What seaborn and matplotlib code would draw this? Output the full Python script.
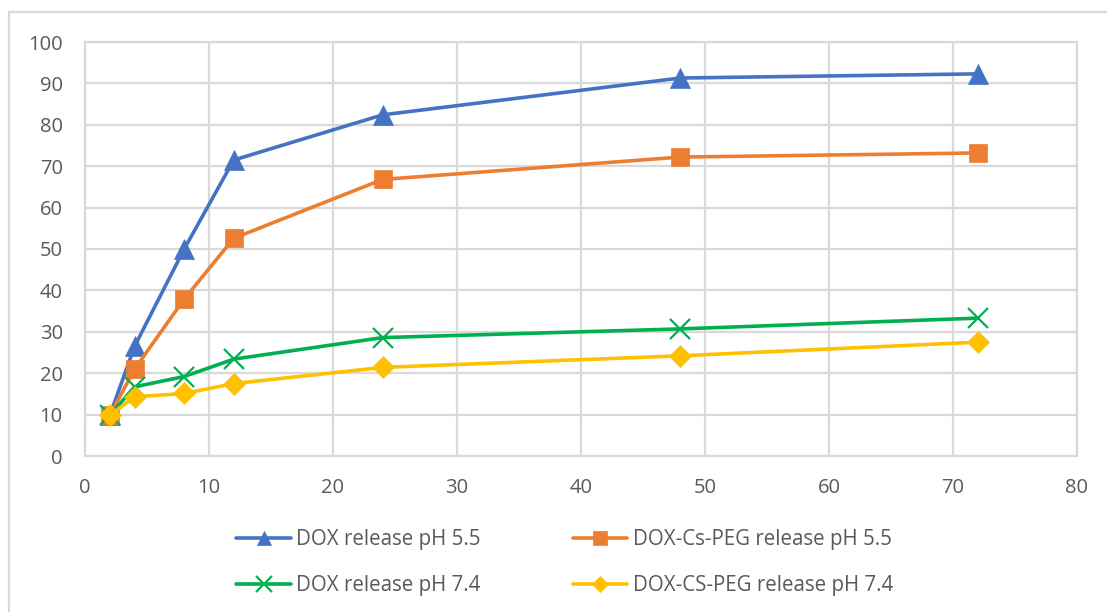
import matplotlib
matplotlib.use("Agg")
import matplotlib.pyplot as plt
from matplotlib.patches import Rectangle
import numpy as np
import pandas as pd
import seaborn as sns

# Release time points (hours)
hours = [2, 4, 8, 12, 24, 48, 72]

# Cumulative release (%) for each formulation
dox_ph55 = [9.8, 26.5, 50.0, 71.5, 82.4, 91.3, 92.3]
dox_cs_peg_ph55 = [9.8, 21.0, 37.9, 52.6, 66.8, 72.2, 73.2]
dox_ph74 = [9.8, 16.7, 19.2, 23.4, 28.6, 30.7, 33.3]
dox_cs_peg_ph74 = [9.8, 14.3, 15.1, 17.5, 21.4, 24.2, 27.5]

series_names = [
    "DOX release pH 5.5",
    "DOX-Cs-PEG release pH 5.5",
    "DOX release pH 7.4",
    "DOX-CS-PEG release pH 7.4",
]
series_values = [dox_ph55, dox_cs_peg_ph55, dox_ph74, dox_cs_peg_ph74]
colors = ["#4472C4", "#ED7D31", "#00B050", "#FFC000"]
markers = ["^", "s", "x", "D"]
marker_sizes = [14, 13, 15, 11]

x_ticks = list(range(0, 81, 10))
y_ticks = list(range(0, 101, 10))

df = pd.DataFrame({
    "hours": np.tile(hours, len(series_names)),
    "release": np.concatenate(series_values),
    "series": np.repeat(series_names, len(hours)),
})

sns.set_theme(style="white")
plt.rcParams["font.family"] = ["Open Sans", "DejaVu Sans"]

fig = plt.figure(figsize=(11.07, 6.12), dpi=100)
ax = fig.add_axes([85 / 1107, 1 - 456 / 612, (1077 - 85) / 1107, (456 - 42) / 612])

for name, c, mk, ms in zip(series_names, colors, markers, marker_sizes):
    sub = df[df["series"] == name]
    sns.lineplot(
        data=sub, x="hours", y="release", color=c, marker=mk,
        markersize=ms, markeredgecolor=c, markerfacecolor=c,
        markeredgewidth=1.6 if mk == "x" else 0.5,
        linewidth=2.6, label=name, legend=False, ax=ax,
    )

for line in ax.lines:
    line.set_solid_joinstyle("round")

ax.set_xlim(0, 80)
ax.set_ylim(0, 100)
ax.set_xticks(x_ticks)
ax.set_yticks(y_ticks)
ax.set_xlabel("")
ax.set_ylabel("")
ax.grid(True, color="#d9d9d9", linewidth=1.6)
ax.set_axisbelow(True)
for sp in ax.spines.values():
    sp.set_color("#d9d9d9")
    sp.set_linewidth(1.6)
ax.tick_params(axis="both", length=0, pad=16, labelsize=14.5, colors="#595959")

# Row-wise legend order: pH 5.5 pair on the first row, pH 7.4 pair on the second
order = [0, 2, 1, 3]
handles = [ax.lines[i] for i in order]
labels = [series_names[i] for i in order]
leg = fig.legend(
    handles, labels, loc="center", ncol=2,
    bbox_to_anchor=(0.51, 1 - 562.5 / 612), frameon=False,
    fontsize=14.8, labelcolor="#595959", markerscale=0.75,
    handlelength=2.65, handletextpad=0.25, columnspacing=4.5, labelspacing=1.2,
)

# Chart-area border
fig.patches.append(Rectangle(
    (9 / 1107, -0.1), 1.2, 1 - 12 / 612 + 0.1, transform=fig.transFigure,
    fill=False, edgecolor="#d9d9d9", linewidth=1.6, zorder=0,
))

fig.savefig("out.png", dpi=100, facecolor="white")
